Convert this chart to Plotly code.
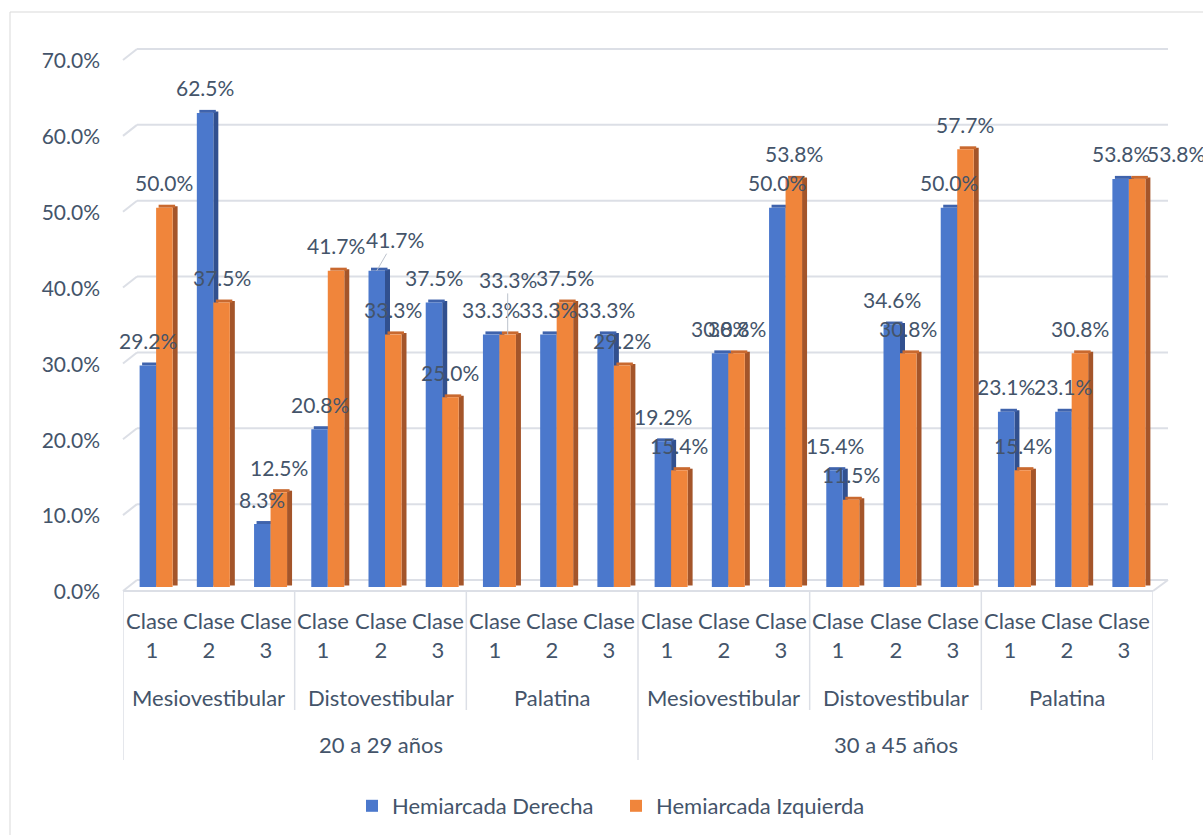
import plotly.graph_objects as go

# ---- data -------------------------------------------------------------
age_groups = ["20 a 29 años", "30 a 45 años"]
roots = ["Mesiovestibular", "Distovestibular", "Palatina"]
classes = ["Clase 1", "Clase 2", "Clase 3"]

derecha = [29.2, 62.5, 8.3, 20.8, 41.7, 37.5, 33.3, 33.3, 33.3,
           19.2, 30.8, 50.0, 15.4, 34.6, 50.0, 23.1, 23.1, 53.8]
izquierda = [50.0, 37.5, 12.5, 41.7, 33.3, 25.0, 33.3, 37.5, 29.2,
             15.4, 30.8, 53.8, 11.5, 30.8, 57.7, 15.4, 30.8, 53.8]

y_ticks = [0, 10, 20, 30, 40, 50, 60, 70]
y_tick_text = [f"{t:.1f}%" for t in y_ticks]

series_names = ["Hemiarcada Derecha", "Hemiarcada Izquierda"]

# ---- styling ----------------------------------------------------------
FONT = "Lato"
TEXT = "#44546a"
GRID = "#dcdfe6"
FRONT = ["#4b78cc", "#f0853b"]
SIDE = ["#31508f", "#a4552a"]
TOP = ["#3f63ac", "#c9692f"]

W, H = 1203, 835
PL, PR, PT, PB = 123, 1168, 40, 600          # plotting region in pixels
CAT_R = 1153                                  # right end of category axis
UNIT = 531 / 70                               # pixels per percentage point
ZERO = 587                                    # pixel row of 0 % on the bars
DEPTH_X = 14                                  # 3-D depth of the walls

n_cat = len(derecha)
slot = (CAT_R - PL) / n_cat


def px_x(px):
    return (px - PL) / (PR - PL)


def px_y(py):
    return (PB - py) / (PB - PT)


face_w = 16.5 / slot
offsets = [-12 / slot, -12 / slot + face_w]
side_w = 5 / slot
top_dx = 2.5 / slot
top_h = 3 / UNIT
side_dy = 1.5 / UNIT

x = list(range(n_cat))
fig = go.Figure()

for s, vals in enumerate([derecha, izquierda]):
    # right-hand side face
    fig.add_trace(go.Bar(x=x, y=vals, base=side_dy, offset=offsets[s] + face_w,
                         width=side_w, marker=dict(color=SIDE[s], line_width=0),
                         showlegend=False, hoverinfo="skip"))
    # top face
    fig.add_trace(go.Bar(x=x, y=[top_h] * n_cat, base=vals,
                         offset=offsets[s] + top_dx, width=face_w,
                         marker=dict(color=TOP[s], line_width=0),
                         showlegend=False, hoverinfo="skip"))
    # front face
    fig.add_trace(go.Bar(x=x, y=vals, offset=offsets[s], width=face_w,
                         name=series_names[s],
                         marker=dict(color=FRONT[s], line_width=0)))

# ---- data labels ------------------------------------------------------
label_font = dict(family=FONT, size=21, color=TEXT)
cat_font = dict(family=FONT, size=22, color=TEXT)
leader = {(4, 0): (18, -31), (6, 1): (0, -55)}    # labels pulled away with a leader line
nudged = {(17, 1): 39}                            # labels pushed sideways
annotations = []
for s, vals in enumerate([derecha, izquierda]):
    for i, v in enumerate(vals):
        xc = i + offsets[s] + face_w / 2
        txt = f"{v:.1f}%"
        if (i, s) in leader:
            ax, ay = leader[(i, s)]
            annotations.append(dict(x=xc, y=v, xref="x", yref="y", text=txt,
                                    showarrow=True, arrowhead=0, arrowwidth=1,
                                    arrowcolor="#bcc2cc", ax=ax, ay=ay,
                                    font=label_font))
        else:
            annotations.append(dict(x=xc, y=v, xref="x", yref="y", text=txt,
                                    showarrow=False, yshift=25,
                                    xshift=nudged.get((i, s), 0),
                                    xanchor="center", yanchor="middle",
                                    font=label_font))

# ---- multi-level category labels ---------------------------------------
for a, age in enumerate(age_groups):
    for r, root in enumerate(roots):
        for c, cls in enumerate(classes):
            i = a * 9 + r * 3 + c
            word, num = cls.split(" ")
            annotations.append(dict(x=i, y=px_y(635.5), xref="x", yref="paper",
                                    text=f"{word}<br>{num}", showarrow=False,
                                    xanchor="center", yanchor="middle",
                                    font=cat_font))
        annotations.append(dict(x=a * 9 + r * 3 + 1, y=px_y(697), xref="x",
                                yref="paper", text=root, showarrow=False,
                                xanchor="center", yanchor="middle",
                                font=cat_font))
    annotations.append(dict(x=a * 9 + 4, y=px_y(744), xref="x", yref="paper",
                            text=age, showarrow=False,
                            xanchor="center", yanchor="middle", font=cat_font))

# ---- walls, floor and dividers ---------------------------------------
shapes = []
back_dy = (ZERO - 580) / UNIT      # back wall sits above the bar plane
front_dy = (ZERO - 591) / UNIT     # front edge sits below it
for t in y_ticks:
    shapes.append(dict(type="line", xref="paper", yref="y", layer="below",
                       x0=px_x(PL + DEPTH_X), x1=1, y0=t + back_dy, y1=t + back_dy,
                       line=dict(color=GRID, width=2)))
    shapes.append(dict(type="line", xref="paper", yref="y", layer="below",
                       x0=px_x(PL), x1=px_x(PL + DEPTH_X),
                       y0=t + front_dy, y1=t + back_dy,
                       line=dict(color=GRID, width=2)))
# floor front edge and right edge
shapes.append(dict(type="line", xref="x", yref="y", layer="below",
                   x0=-0.5, x1=n_cat - 0.5, y0=front_dy, y1=front_dy,
                   line=dict(color=GRID, width=2)))
shapes.append(dict(type="line", xref="paper", yref="y", layer="below",
                   x0=px_x(CAT_R), x1=1, y0=front_dy, y1=back_dy,
                   line=dict(color=GRID, width=2)))
# category dividers
for b in range(0, n_cat + 1, 3):
    bottom = 760 if b % 9 == 0 else 710
    shapes.append(dict(type="line", xref="x", yref="paper",
                       x0=b - 0.5, x1=b - 0.5, y0=px_y(591), y1=px_y(bottom),
                       line=dict(color=GRID, width=1.5)))
# chart border
shapes.append(dict(type="rect", xref="paper", yref="paper",
                   x0=px_x(10), x1=px_x(W + 10), y0=px_y(12), y1=px_y(H + 10),
                   line=dict(color="#d9d9d9", width=1)))

fig.update_layout(
    width=W, height=H,
    margin=dict(l=PL, r=W - PR, t=PT, b=H - PB, autoexpand=False),
    paper_bgcolor="white", plot_bgcolor="white",
    barmode="overlay",
    font=dict(family=FONT, size=21, color=TEXT),
    xaxis=dict(domain=[0, px_x(CAT_R)], range=[-0.5, n_cat - 0.5],
               showgrid=False, zeroline=False, showticklabels=False,
               showline=False, ticks=""),
    yaxis=dict(range=[-(PB - ZERO) / UNIT, (ZERO - PT) / UNIT],
               tickvals=y_ticks, ticktext=y_tick_text,
               showgrid=False, zeroline=False, showline=False, ticks="",
               ticklabelstandoff=22, ticklabelshift=5,
               tickfont=dict(family=FONT, size=21, color=TEXT)),
    legend=dict(orientation="h", x=px_x(352), y=px_y(806), xanchor="left",
                yanchor="middle", entrywidth=219, entrywidthmode="pixels",
                font=dict(family=FONT, size=22, color=TEXT),
                bgcolor="rgba(0,0,0,0)"),
    annotations=annotations,
    shapes=shapes,
)

fig.write_html("out.html")
